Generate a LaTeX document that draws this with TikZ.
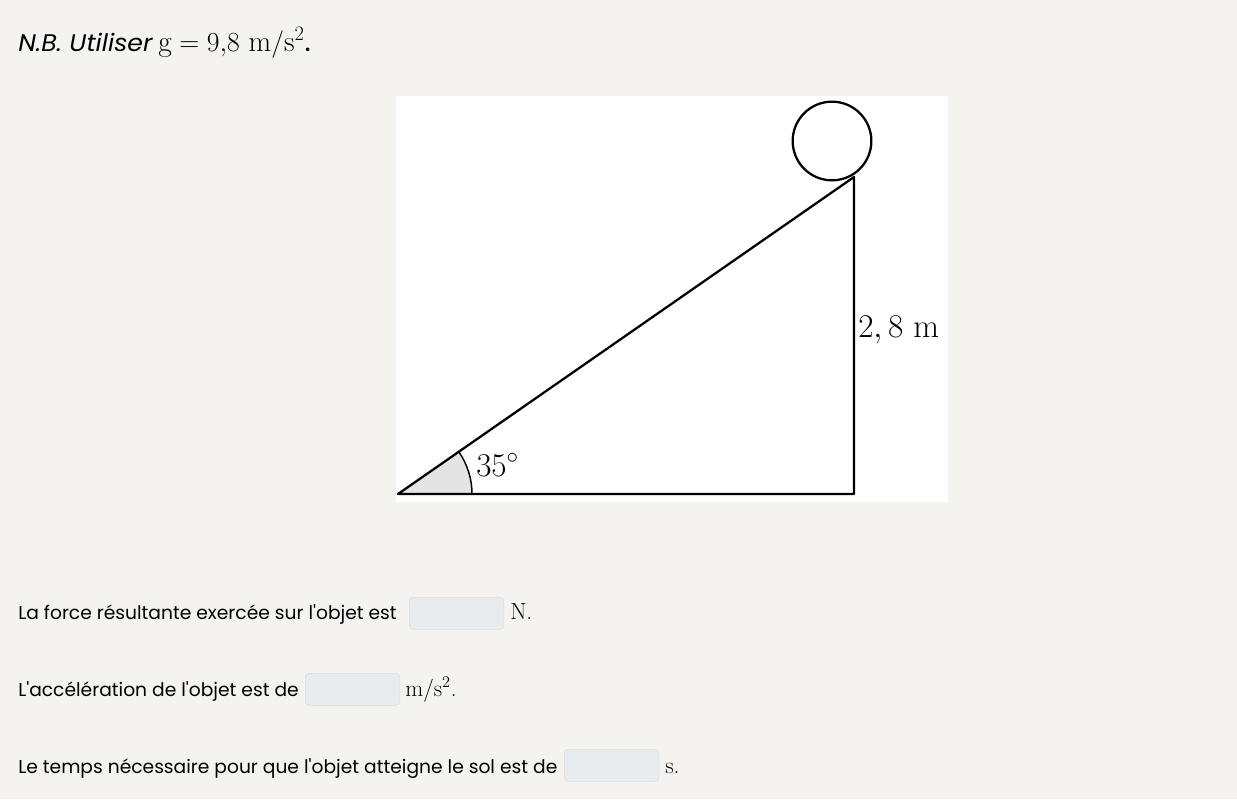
\documentclass[tikz,border=0pt]{standalone}
\usepackage{fontspec}
\newfontfamily\uifont{Poppins}
\newfontfamily\headfont[FakeStretch=1.05]{Poppins}
\usetikzlibrary{positioning}
\definecolor{pagebg}{RGB}{244,243,239}
\definecolor{boxfill}{RGB}{233,236,239}
\definecolor{boxline}{RGB}{216,219,223}
\definecolor{anglefill}{RGB}{228,228,228}
\begin{document}
\begin{tikzpicture}[x=0.75pt, y=-0.75pt,
    question/.style={anchor=base west, inner sep=0pt, font=\uifont\fontsize{14}{16}\selectfont},
    answerbox/.style={draw=boxline, fill=boxfill, rounded corners=3pt, minimum width=71pt, minimum height=24pt, inner sep=0pt, anchor=north west},
    unitmark/.style={anchor=base west, inner sep=0pt, font=\fontsize{17.5}{20}\selectfont},
    dimtext/.style={inner sep=0pt, font=\fontsize{25}{28}\selectfont},
    edge/.style={line width=1.7pt, line join=round}
]
% page and figure area
\fill[pagebg] (0,0) rectangle (1237,799);
\fill[white] (396,96) rectangle (948,502);

% heading
\node[anchor=base west, inner sep=0pt, font=\headfont\itshape\fontsize{18}{20}\selectfont] (nb) at (18,51) {N.B. Utiliser};
\node[anchor=base west, inner sep=0pt, font=\fontsize{22}{26}\selectfont] (gval) at (158,51) {$\mathrm{g}=9{,}8\ \mathrm{m/s^2}$\uifont.};

% incline
\coordinate (A) at (398,494);
\coordinate (B) at (854,494);
\coordinate (C) at (854,177);
\fill[anglefill] (A) -- (472,494) arc[start angle=0, end angle=-35, radius=74] -- cycle;
\draw[line width=1.1pt] (472,494) arc[start angle=0, end angle=-35, radius=74];
\draw[edge] (A) -- (B) -- (C) -- cycle;
\node[circle, draw, line width=1.7pt, minimum size=59pt, inner sep=0pt] (ball) at (832,141) {};
\node[dimtext, anchor=base west] (angle) at (476,476) {$35^\circ$};
\node[dimtext, anchor=base west] (height) at (858,337) {$2,8\ \mathrm{m}$};

% questions
\node[question] (q1) at (18,619) {La force résultante exercée sur l'objet est};
\node[answerbox] (box1) at (409,597) {};
\node[unitmark] (u1) at (510,619) {$\mathrm{N}$.};

\node[question] (q2) at (18,696) {L'accélération de l'objet est de};
\node[answerbox] (box2) at (305,673) {};
\node[unitmark] (u2) at (405,696) {$\mathrm{m/s^2}$.};

\node[question] (q3) at (18,773) {Le temps nécessaire pour que l'objet atteigne le sol est de};
\node[answerbox] (box3) at (564,749) {};
\node[unitmark] (u3) at (665,773) {$\mathrm{s}$.};
\end{tikzpicture}
\end{document}
